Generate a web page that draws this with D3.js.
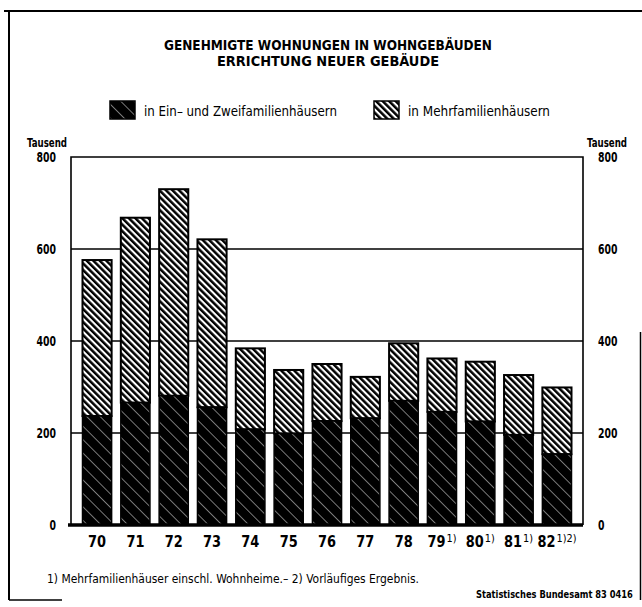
<!DOCTYPE html>
<html>
<head>
<meta charset="utf-8">
<script src="https://cdn.jsdelivr.net/npm/d3@7"></script>
<style>
  body { margin: 0; background: #fff; }
  svg text { font-family: "Liberation Sans Narrow", "DejaVu Sans Condensed", "Arial Narrow", sans-serif; font-stretch: condensed; fill: #000; }
</style>
</head>
<body>
<div id="chart"></div>
<script>
// Jahre (19..), Fußnotenzeichen und Werte in Tausend
var years   = ['70', '71', '72', '73', '74', '75', '76', '77', '78', '79', '80', '81', '82'];
var notes   = ['', '', '', '', '', '', '', '', '', '1)', '1)', '1)', '1)2)'];
var einZwei = [237, 266, 281, 256, 208, 199, 226, 232, 270, 246, 225, 196, 154];
var mehr    = [339, 402, 449, 365, 176, 138, 124, 90, 125, 116, 130, 130, 145];
var yTicks  = [0, 200, 400, 600, 800];
var gridTicks = [200, 400, 600];

var W = 642, H = 607;
var plot = {left: 71, right: 583, top: 157, bottom: 525};

var svg = d3.select('#chart').append('svg')
    .attr('width', W)
    .attr('height', H);

var defs = svg.append('defs');

// weiss mit breiten schwarzen Schraegstrichen
var pMehr = defs.append('pattern')
    .attr('id', 'p-mehr')
    .attr('patternUnits', 'userSpaceOnUse')
    .attr('width', 4.6).attr('height', 4.6)
    .attr('patternTransform', 'rotate(-45)');
pMehr.append('rect').attr('width', 4.6).attr('height', 4.6).attr('fill', '#fff');
pMehr.append('rect').attr('width', 2.5).attr('height', 4.6).attr('fill', '#000');

// schwarz mit feinen weissen Linien
var pEin = defs.append('pattern')
    .attr('id', 'p-ein')
    .attr('patternUnits', 'userSpaceOnUse')
    .attr('width', 9.5).attr('height', 9.5)
    .attr('patternTransform', 'rotate(-45)');
pEin.append('rect').attr('width', 9.5).attr('height', 9.5).attr('fill', '#000');
pEin.append('rect').attr('x', 4).attr('width', 0.7).attr('height', 9.5).attr('fill', '#aaa');

var x = d3.scaleBand()
    .domain(years)
    .range([plot.left, plot.right])
    .paddingInner(0.24)
    .paddingOuter(0.3);

var y = d3.scaleLinear()
    .domain([0, 800])
    .range([plot.bottom, plot.top]);

// Rahmen aussen
svg.append('line').attr('x1', 4).attr('x2', W).attr('y1', 11).attr('y2', 11)
  .attr('stroke', '#000').attr('stroke-width', 2);
svg.append('line').attr('x1', 9).attr('x2', 9).attr('y1', 11).attr('y2', 600)
  .attr('stroke', '#000').attr('stroke-width', 2);
svg.append('line').attr('x1', 9).attr('x2', 62).attr('y1', 600).attr('y2', 600)
  .attr('stroke', '#000').attr('stroke-width', 1.5);
svg.append('line').attr('x1', 640.5).attr('x2', 640.5).attr('y1', 332).attr('y2', 600)
  .attr('stroke', '#000').attr('stroke-width', 1.5);

// Titel
svg.append('text')
  .attr('x', 328).attr('y', 50)
  .attr('text-anchor', 'middle')
  .attr('font-weight', 'bold')
  .attr('font-size', 13.5)
  .attr('textLength', 328).attr('lengthAdjust', 'spacingAndGlyphs')
  .text('GENEHMIGTE WOHNUNGEN IN WOHNGEBÄUDEN');
svg.append('text')
  .attr('x', 328).attr('y', 66)
  .attr('text-anchor', 'middle')
  .attr('font-weight', 'bold')
  .attr('font-size', 13.5)
  .attr('textLength', 222).attr('lengthAdjust', 'spacingAndGlyphs')
  .text('ERRICHTUNG NEUER GEBÄUDE');

// Legende
var legend = [
  {fill: 'url(#p-ein)', label: 'in Ein\u2013 und Zweifamilienhäusern', bx: 110, tw: 193},
  {fill: 'url(#p-mehr)', label: 'in Mehrfamilienhäusern', bx: 374, tw: 142}
];
var lg = svg.append('g').selectAll('g')
    .data(legend)
    .enter()
    .append('g');
lg.append('rect')
  .attr('x', function (d) { return d.bx; })
  .attr('y', 101)
  .attr('width', 25).attr('height', 18)
  .attr('fill', function (d) { return d.fill; })
  .attr('stroke', '#000').attr('stroke-width', 1.5);
lg.append('text')
  .attr('x', function (d) { return d.bx + 34; })
  .attr('y', 116)
  .attr('font-size', 14)
  .attr('textLength', function (d) { return d.tw; })
  .attr('lengthAdjust', 'spacingAndGlyphs')
  .text(function (d) { return d.label; });

// Einheit
[47, 607].forEach(function (cx) {
  svg.append('text').attr('x', cx).attr('y', 147).attr('text-anchor', 'middle')
    .attr('font-weight', 'bold').attr('font-size', 13)
    .attr('textLength', 40).attr('lengthAdjust', 'spacingAndGlyphs')
    .text('Tausend');
});

// Gitterlinien
svg.append('g')
  .selectAll('line')
  .data(gridTicks)
  .enter()
  .append('line')
  .attr('x1', plot.left).attr('x2', plot.right)
  .attr('y1', function (d) { return y(d); })
  .attr('y2', function (d) { return y(d); })
  .attr('stroke', '#000').attr('stroke-width', 1.6);

// Rahmen Diagramm (oben, links, rechts)
svg.append('path')
  .attr('d', 'M' + plot.left + ',' + y(0) + 'V' + y(800) + 'H' + plot.right + 'V' + y(0))
  .attr('fill', 'none').attr('stroke', '#000').attr('stroke-width', 1.6);

// Saeulen
var bars = svg.append('g')
    .selectAll('g')
    .data(years)
    .enter()
    .append('g');

bars.append('rect')
  .attr('x', function (d) { return x(d); })
  .attr('width', x.bandwidth())
  .attr('y', function (d, i) { return y(einZwei[i] + mehr[i]); })
  .attr('height', function (d, i) { return y(einZwei[i]) - y(einZwei[i] + mehr[i]); })
  .attr('fill', 'url(#p-mehr)')
  .attr('stroke', '#000').attr('stroke-width', 2);

bars.append('rect')
  .attr('x', function (d) { return x(d); })
  .attr('width', x.bandwidth())
  .attr('y', function (d, i) { return y(einZwei[i]); })
  .attr('height', function (d, i) { return y(0) - y(einZwei[i]); })
  .attr('fill', 'url(#p-ein)')
  .attr('stroke', '#000').attr('stroke-width', 1.5);

// Nulllinie
svg.append('line')
  .attr('x1', plot.left - 3).attr('x2', plot.right)
  .attr('y1', y(0)).attr('y2', y(0))
  .attr('stroke', '#000').attr('stroke-width', 3.5);

// y-Achsen
var axL = svg.append('g')
  .attr('transform', 'translate(' + plot.left + ',0)')
  .call(d3.axisLeft(y).tickValues(yTicks).tickSize(0).tickPadding(15));
var axR = svg.append('g')
  .attr('transform', 'translate(' + plot.right + ',0)')
  .call(d3.axisRight(y).tickValues(yTicks).tickSize(0).tickPadding(15));
[axL, axR].forEach(function (ax) {
  ax.select('.domain').remove();
  ax.selectAll('text')
    .attr('font-family', null)
    .attr('font-size', 14)
    .attr('font-weight', 'bold')
    .attr('fill', '#000')
    .attr('textLength', function (d) { return String(d).length * 6.5; })
    .attr('lengthAdjust', 'spacingAndGlyphs');
});

// x-Achse
var labW = 18;
function noteW(n) { return n.length * 5; }
var xLab = svg.append('g')
    .selectAll('g')
    .data(years)
    .enter()
    .append('g')
    .attr('transform', function (d, i) {
      var total = labW + (notes[i] ? 1 + noteW(notes[i]) : 0);
      return 'translate(' + (x(d) + x.bandwidth() / 2 - total / 2) + ',547)';
    });
xLab.append('text')
  .attr('font-weight', 'bold')
  .attr('font-size', 15)
  .attr('textLength', labW).attr('lengthAdjust', 'spacingAndGlyphs')
  .text(function (d) { return d; });
xLab.filter(function (d, i) { return notes[i] !== ''; })
  .append('text')
  .attr('x', labW + 1)
  .attr('y', -5)
  .attr('font-size', 11)
  .attr('textLength', function (d) { return noteW(notes[years.indexOf(d)]); })
  .attr('lengthAdjust', 'spacingAndGlyphs')
  .text(function (d) { return notes[years.indexOf(d)]; });

// Fussnote und Quelle
svg.append('text')
  .attr('x', 47).attr('y', 583)
  .attr('font-size', 13)
  .attr('textLength', 372).attr('lengthAdjust', 'spacingAndGlyphs')
  .text('1) Mehrfamilienhäuser einschl. Wohnheime.\u2013 2) Vorläufiges Ergebnis.');

var src = svg.append('text')
  .attr('font-size', 10)
  .attr('font-weight', 'bold')
  .text('Statistisches Bundesamt 83 0416');
var srcLen = src.node().getComputedTextLength();
var srcScale = 157 / srcLen;
src.attr('transform', 'translate(476,598) scale(' + srcScale + ',1)');
</script>
</body>
</html>
